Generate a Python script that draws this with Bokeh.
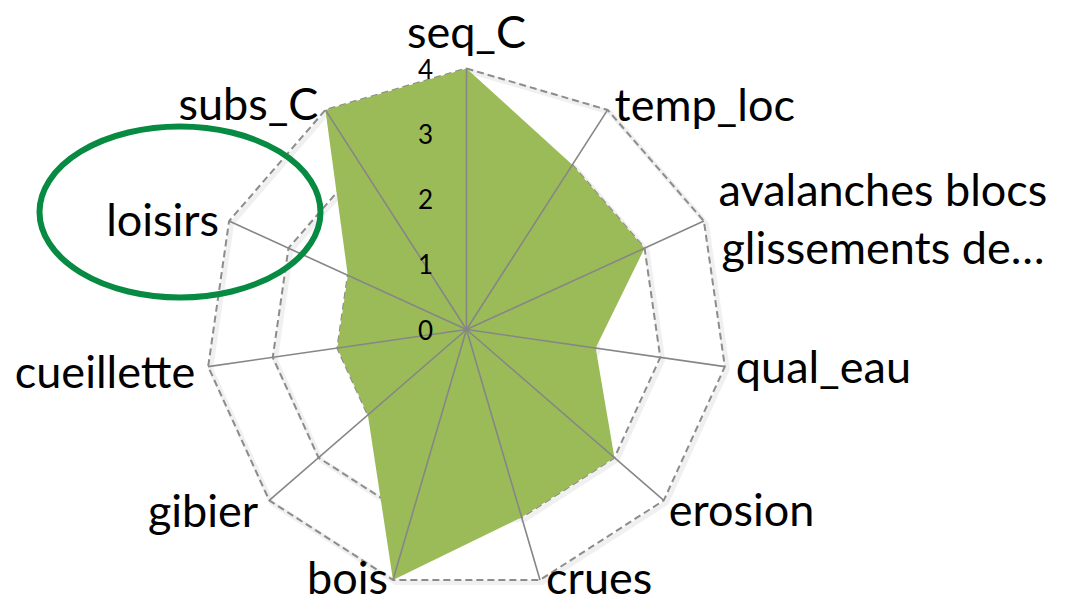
import math
from bokeh.plotting import figure
from bokeh.models import Range1d, ColumnDataSource
from bokeh.core.properties import value
from bokeh.embed import file_html
from bokeh.resources import INLINE

# ---- data ----
categories = ["seq_C", "temp_loc", "avalanches blocs\nglissements de…", "qual_eau",
              "erosion", "crues", "bois", "gibier", "cueillette", "loisirs", "subs_C"]
scores = [4, 3, 3, 2, 3, 3, 4, 2, 2, 2, 4]
tick_values = [0, 1, 2, 3, 4]
tick_labels = ["0", "1", "2", "3", "4"]
r_max = 4

# ---- layout / style ----
FONT = "Lato"
W, H = 1067, 608
PX = 65.25            # pixels per unit
CX, CY = 466, 329     # centre of radar in frame pixels
label_dx = [0, 7, 179, 11, 5, 6, -5, -11, -13, -10, -7]
label_dy = [-38, -6, -3, -1, 9, -3, -3, 10, 4, -2, -7]
label_align = ["center", "left", "center", "left", "left", "left", "right",
               "right", "right", "right", "right"]

n = len(categories)
angles = [math.pi / 2 - 2 * math.pi * i / n for i in range(n)]

p = figure(width=W, height=H, output_backend="svg", toolbar_location=None,
           x_axis_type=None, y_axis_type=None, min_border=0,
           x_range=Range1d(-CX / PX, (W - CX) / PX),
           y_range=Range1d(-(H - CY) / PX, CY / PX))
p.grid.visible = False
p.outline_line_color = None
p.background_fill_color = "white"

# gridline rings (with soft shadow)
for lv in tick_values[1:]:
    xs = [lv * math.cos(a) for a in angles] + [lv * math.cos(angles[0])]
    ys = [lv * math.sin(a) for a in angles] + [lv * math.sin(angles[0])]
    xs_s = [x + 2.5 / PX for x in xs]
    ys_s = [y - 2.5 / PX for y in ys]
    p.line(xs_s, ys_s, line_color="#000000", line_alpha=0.06, line_width=5)
    p.line(xs, ys, line_color="#8c8c8c", line_width=2, line_dash="7 4")

# filled series
px = [s * math.cos(a) for s, a in zip(scores, angles)]
py = [s * math.sin(a) for s, a in zip(scores, angles)]
p.patch(px, py, fill_color="#9BBB59", line_color=None)

# spokes
for a in angles:
    p.line([0, r_max * math.cos(a)], [0, r_max * math.sin(a)],
           line_color="#868686", line_width=1.6)

# tick labels on vertical axis
p.text(x=[0] * len(tick_values), y=tick_values, text=tick_labels,
       x_offset=-41, text_align="center", text_baseline="middle",
       text_font=value(FONT), text_font_size="26px", text_color="black")

# category labels
lx = [r_max * math.cos(a) for a in angles]
ly = [r_max * math.sin(a) for a in angles]
src = ColumnDataSource(dict(x=lx, y=ly, t=categories, dx=label_dx, dy=label_dy,
                            al=label_align))
p.text(x="x", y="y", text="t", x_offset="dx", y_offset="dy", text_align="al",
       text_baseline="middle", source=src, text_font=value(FONT),
       text_font_size="45px", text_color="black", text_line_height=1.08)

# annotation ellipse around "loisirs"
p.ellipse(x=[(179.5 - 466) / PX], y=[(329 - 211.5) / PX], width=281 / PX,
          height=171 / PX, fill_color=None, line_color="#078A42", line_width=6)

open("out.html", "w").write(file_html(p, INLINE))
